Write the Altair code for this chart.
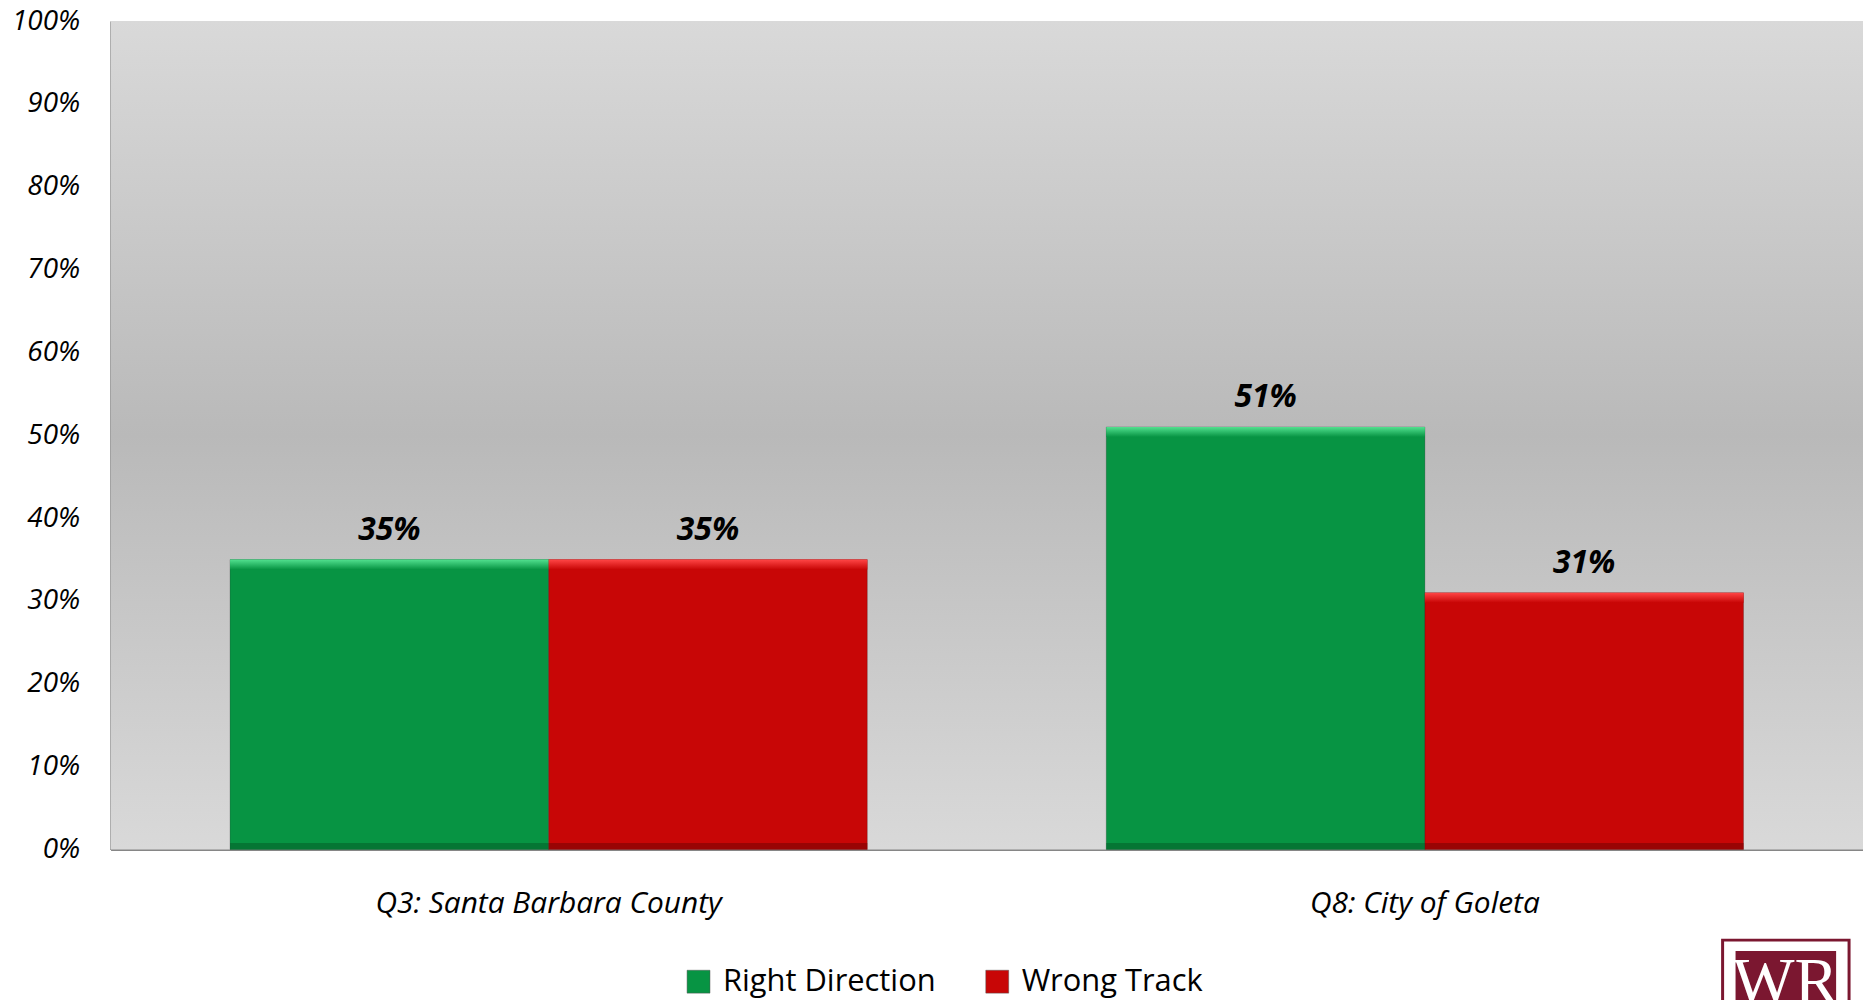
import altair as alt
import pandas as pd

categories = ["Q3: Santa Barbara County", "Q8: City of Goleta"]
series = ["Right Direction", "Wrong Track"]
right_direction = [0.35, 0.51]
wrong_track = [0.35, 0.31]
y_ticks = [0, 0.1, 0.2, 0.3, 0.4, 0.5, 0.6, 0.7, 0.8, 0.9, 1.0]

rows = []
for c, r, w in zip(categories, right_direction, wrong_track):
    rows.append({"category": c, "series": series[0], "value": r})
    rows.append({"category": c, "series": series[1], "value": w})
df = pd.DataFrame(rows)

W, H = 1760, 832
FONT = "Open Sans"
GREEN, RED = "#079443", "#c80606"

bg = alt.Chart(alt.Data(values=[{}])).mark_rect(
    color=alt.LinearGradient(
        gradient="linear", x1=0, x2=0, y1=0, y2=1,
        stops=[alt.GradientStop(color="#d9d9d9", offset=0),
               alt.GradientStop(color="#b9b9b9", offset=0.5),
               alt.GradientStop(color="#d9d9d9", offset=1)])
).encode(x=alt.value(0), x2=alt.value(W), y=alt.value(0), y2=alt.value(H))

base = alt.Chart(df).encode(
    x=alt.X("category:N", sort=categories, title=None,
            scale=alt.Scale(paddingInner=0, paddingOuter=0),
            axis=alt.Axis(labelAngle=0, labelFont=FONT, labelFontSize=30,
                          labelFontStyle="italic", labelColor="#000",
                          labelPadding=39, labelLimit=1000, ticks=False,
                          domainColor="#868686", domainWidth=2)),
    xOffset=alt.XOffset("series:N", sort=series,
                        scale=alt.Scale(paddingOuter=0.375, paddingInner=0)),
)

yenc = alt.Y("value:Q", title=None,
             scale=alt.Scale(domain=[0, 1]),
             axis=alt.Axis(values=y_ticks, format=".0%", labelFont=FONT,
                           labelFontSize=28, labelFontStyle="italic",
                           labelColor="#000", labelPadding=31, ticks=False,
                           grid=False, domainColor="#868686", domainWidth=2))

bars = base.mark_bar(stroke="#000", strokeOpacity=0.2, strokeWidth=1).encode(
    y=yenc,
    color=alt.Color("series:N", sort=series,
                    scale=alt.Scale(domain=series, range=[GREEN, RED]),
                    legend=alt.Legend(title=None, orient="none", legendX=575,
                                      legendY=949, direction="horizontal",
                                      symbolType="square", symbolSize=529,
                                      symbolStrokeColor="#555",
                                      symbolStrokeWidth=0.5,
                                      labelFont=FONT, labelFontSize=31,
                                      labelColor="#000", labelOffset=9,
                                      columnPadding=46, labelLimit=400)),
)


def highlight(name, light, mid):
    return base.transform_filter(alt.datum.series == name).transform_calculate(
        top2="datum.value - 0.012"
    ).mark_bar(
        color=alt.LinearGradient(
            gradient="linear", x1=0, x2=0, y1=0, y2=1,
            stops=[alt.GradientStop(color=light, offset=0),
                   alt.GradientStop(color=mid, offset=1)])
    ).encode(y="value:Q", y2="top2:Q")


def shade(name, dark):
    return base.transform_filter(alt.datum.series == name).transform_calculate(
        b0="0", b1="0.008"
    ).mark_bar(color=dark, opacity=0.6).encode(y="b0:Q", y2="b1:Q")


hl = [highlight(series[0], "#52e08f", GREEN), highlight(series[1], "#ff4545", RED),
      shade(series[0], "#05622c"), shade(series[1], "#7a0303")]

labels = base.mark_text(dy=-20, baseline="alphabetic", font=FONT, fontSize=32,
                        fontWeight="bold", fontStyle="italic", color="#000").encode(
    y="value:Q", text=alt.Text("value:Q", format=".0%"))

logo_data = alt.Data(values=[{}])
logo_outer = alt.Chart(logo_data).mark_rect(fill="#ffffff", stroke="#7b1730",
                                            strokeWidth=3).encode(
    x=alt.value(1619), x2=alt.value(1746), y=alt.value(923), y2=alt.value(1000))
logo_inner = alt.Chart(logo_data).mark_rect(fill="#7b1730").encode(
    x=alt.value(1632), x2=alt.value(1733), y=alt.value(934), y2=alt.value(1000))
logo_text = alt.Chart(logo_data).mark_text(
    text="WR", font="Liberation Serif", fontSize=66, color="#ffffff",
    baseline="top", align="center").encode(x=alt.value(1682), y=alt.value(934))

chart = alt.layer(bg, bars, *hl, labels, logo_outer, logo_inner, logo_text).properties(
    width=W, height=H, autosize="none",
    padding={"left": 103, "top": 11, "right": 0, "bottom": 149},
).configure_view(strokeWidth=0)

chart.save("out.html", embed_options={"renderer": "svg", "actions": False})
